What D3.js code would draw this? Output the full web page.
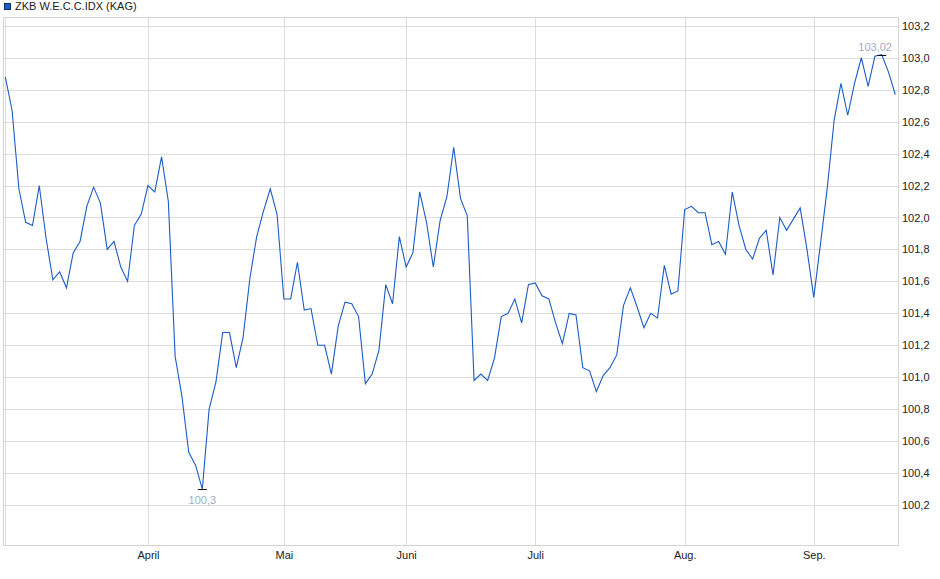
<!DOCTYPE html>
<html>
<head>
<meta charset="utf-8">
<script src="https://cdn.jsdelivr.net/npm/d3@7"></script>
<style>
  html, body { margin: 0; padding: 0; background: #fff; }
  svg { display: block; font-family: "Liberation Sans", Arial, sans-serif; }
</style>
</head>
<body>
<div id="chart"></div>
<script>
const seriesName = "ZKB W.E.C.C.IDX (KAG)";

// daily values (trading-day index 0 .. 131)
const values = [
  102.88, 102.67, 102.18, 101.97, 101.95, 102.20, 101.87, 101.61, 101.66, 101.56,
  101.78, 101.85, 102.07, 102.19, 102.09, 101.80, 101.85, 101.69, 101.60, 101.95,
  102.02, 102.20, 102.16, 102.38, 102.10, 101.13, 100.88, 100.53, 100.45, 100.30,
  100.80, 100.97, 101.28, 101.28, 101.06, 101.25, 101.62, 101.88, 102.04, 102.18,
  102.02, 101.49, 101.49, 101.72, 101.42, 101.43, 101.20, 101.20, 101.02, 101.32,
  101.47, 101.46, 101.38, 100.96, 101.02, 101.17, 101.58, 101.46, 101.88, 101.69,
  101.78, 102.16, 101.97, 101.69, 101.98, 102.13, 102.44, 102.12, 102.01, 100.98,
  101.02, 100.98, 101.12, 101.38, 101.40, 101.49, 101.34, 101.58, 101.59, 101.51,
  101.49, 101.34, 101.21, 101.40, 101.39, 101.06, 101.04, 100.91, 101.01, 101.06,
  101.14, 101.45, 101.56, 101.44, 101.31, 101.40, 101.37, 101.70, 101.52, 101.54,
  102.05, 102.07, 102.03, 102.03, 101.83, 101.85, 101.77, 102.16, 101.95, 101.80,
  101.74, 101.87, 101.92, 101.64, 102.00, 101.92, 101.99, 102.06, 101.80, 101.50,
  101.84, 102.19, 102.61, 102.84, 102.64, 102.84, 103.00, 102.82, 103.01, 103.02,
  102.91, 102.77
];

// month gridlines: trading-day index of the first day of each month
const monthLabels  = ["", "April", "Mai", "Juni", "Juli", "Aug.", "Sep."];
const monthIndices = [0, 21, 41, 59, 78, 100, 119];

// y-axis tick values
const yTicks = [100.2, 100.4, 100.6, 100.8, 101.0, 101.2, 101.4, 101.6, 101.8,
                102.0, 102.2, 102.4, 102.6, 102.8, 103.0, 103.2];

const W = 940, H = 579;
const plot = { left: 3, right: 898, top: 17, bottom: 545 };

const svg = d3.select("#chart").append("svg")
  .attr("width", W).attr("height", H);

const x = d3.scaleLinear()
  .domain([0, values.length - 1])
  .range([5.3, 895.3]);

const y = d3.scaleLinear()
  .domain([99.95, 103.255])
  .range([plot.bottom, plot.top]);

const fmt = v => d3.format(".1f")(v).replace(".", ",");
const fmtExt = v => (+v.toFixed(2)).toString().replace(".", ",");

const gridColor = "#dcdcdc";

// horizontal gridlines
svg.append("g").selectAll("line").data(yTicks).join("line")
  .attr("x1", plot.left).attr("x2", plot.right)
  .attr("y1", d => Math.round(y(d)) + 0.5).attr("y2", d => Math.round(y(d)) + 0.5)
  .attr("stroke", gridColor).attr("stroke-width", 1);

// vertical month gridlines
svg.append("g").selectAll("line").data(monthIndices).join("line")
  .attr("x1", d => Math.round(x(d)) + 0.5).attr("x2", d => Math.round(x(d)) + 0.5)
  .attr("y1", plot.top).attr("y2", plot.bottom)
  .attr("stroke", gridColor).attr("stroke-width", 1);

// plot frame
svg.append("rect")
  .attr("x", plot.left + 0.5).attr("y", plot.top + 0.5)
  .attr("width", plot.right - plot.left).attr("height", plot.bottom - plot.top)
  .attr("fill", "none").attr("stroke", "#d4d4d4").attr("stroke-width", 1);

// right y-axis
const yAxis = d3.axisRight(y).tickValues(yTicks).tickFormat(fmt).tickSize(0).tickPadding(4);
const gy = svg.append("g")
  .attr("transform", `translate(${plot.right},0)`)
  .call(yAxis);
gy.select(".domain").remove();
gy.selectAll("text")
  .attr("font-size", 11).attr("fill", "#222")
  .attr("font-family", "'Liberation Sans', Arial, sans-serif");

// bottom month axis
const xAxis = d3.axisBottom(x)
  .tickValues(monthIndices)
  .tickFormat((d, i) => monthLabels[i])
  .tickSize(0).tickPadding(6);
const gx = svg.append("g")
  .attr("transform", `translate(0,${plot.bottom})`)
  .call(xAxis);
gx.select(".domain").remove();
gx.selectAll("text")
  .attr("font-size", 11).attr("fill", "#222")
  .attr("font-family", "'Liberation Sans', Arial, sans-serif");

// the line
const line = d3.line()
  .x((d, i) => x(i))
  .y(d => y(d));

svg.append("path")
  .datum(values)
  .attr("d", line)
  .attr("fill", "none")
  .attr("stroke", "#1c5cc7")
  .attr("stroke-width", 1.1)
  .attr("stroke-linejoin", "miter");

// min / max markers
const minI = d3.minIndex(values), maxI = d3.maxIndex(values);
const markers = [
  { i: minI, v: values[minI], dy: 14 },
  { i: maxI, v: values[maxI], dy: -5 }
];
const mg = svg.append("g");
markers.forEach(m => {
  const px = x(m.i), py = Math.round(y(m.v)) + 0.5;
  mg.append("line")
    .attr("x1", px - 4.5).attr("x2", px + 4.5)
    .attr("y1", py).attr("y2", py)
    .attr("stroke", "#111").attr("stroke-width", 1);
  const t = mg.append("text")
    .attr("y", py + m.dy)
    .attr("text-anchor", "middle")
    .attr("font-size", 11)
    .attr("fill", "#9dadc2")
    .text(fmtExt(m.v));
  const w = t.node().getComputedTextLength();
  const tx = Math.min(px, plot.right - 6 - w / 2);
  t.attr("x", tx);
});

// legend
const lg = svg.append("g");
lg.append("rect")
  .attr("x", 4.5).attr("y", 3.5).attr("width", 6).attr("height", 6)
  .attr("fill", "#1c5cc7").attr("stroke", "#0d2f6e").attr("stroke-width", 1);
lg.append("text")
  .attr("x", 15).attr("y", 10)
  .attr("font-size", 11).attr("fill", "#222")
  .text(seriesName);
</script>
</body>
</html>
